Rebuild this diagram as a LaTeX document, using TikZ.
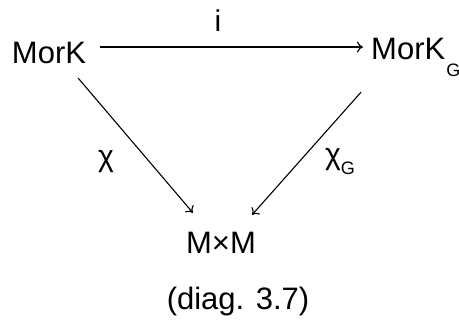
\documentclass[tikz,border=0pt]{standalone}
\usepackage{fontspec}
\setmainfont{Liberation Sans}
\usetikzlibrary{arrows.meta}
\begin{document}
\begin{tikzpicture}[x=1pt,y=-1pt,
  obj/.style={inner sep=0pt, text height=22pt, text depth=0pt, font=\fontsize{31}{31}\selectfont},
  lbl/.style={inner sep=0pt, font=\fontsize{30}{30}\selectfont},
  arr/.style={line width=1.1pt, -{To[length=6pt,width=11pt]}}]
\useasboundingbox (0,0) rectangle (459,325);
\node[obj] (A) at (49,52) {MorK};
\node[obj, anchor=west] (B) at (371,48) {MorK\hspace{1pt}\raisebox{-17pt}{\fontsize{18}{18}\selectfont G}};
\node[obj] (C) at (221,242) {M×M};
\node[lbl, anchor=base] (i) at (218,31) {i};
\node[lbl] (chi) at (106,162) {χ};
\node[lbl, anchor=base west] (chiG) at (325,164) {χ\raisebox{-10pt}{\fontsize{18}{18}\selectfont G}};
\node[inner sep=0pt, anchor=base, font=\fontsize{31}{31}\selectfont] (cap) at (238,309) {(diag. 3.7)};
\draw[arr] ([xshift=14pt,yshift=5pt]A.east) -- ([xshift=-8pt,yshift=1pt]B.west);
\draw[arr] ([xshift=-8pt,yshift=-15pt]A.south east) -- ([xshift=7pt,yshift=18pt]C.north west);
\draw[arr] ([xshift=-10pt,yshift=-33pt]B.south west) -- ([xshift=-4pt,yshift=16pt]C.north east);
\end{tikzpicture}
\end{document}
